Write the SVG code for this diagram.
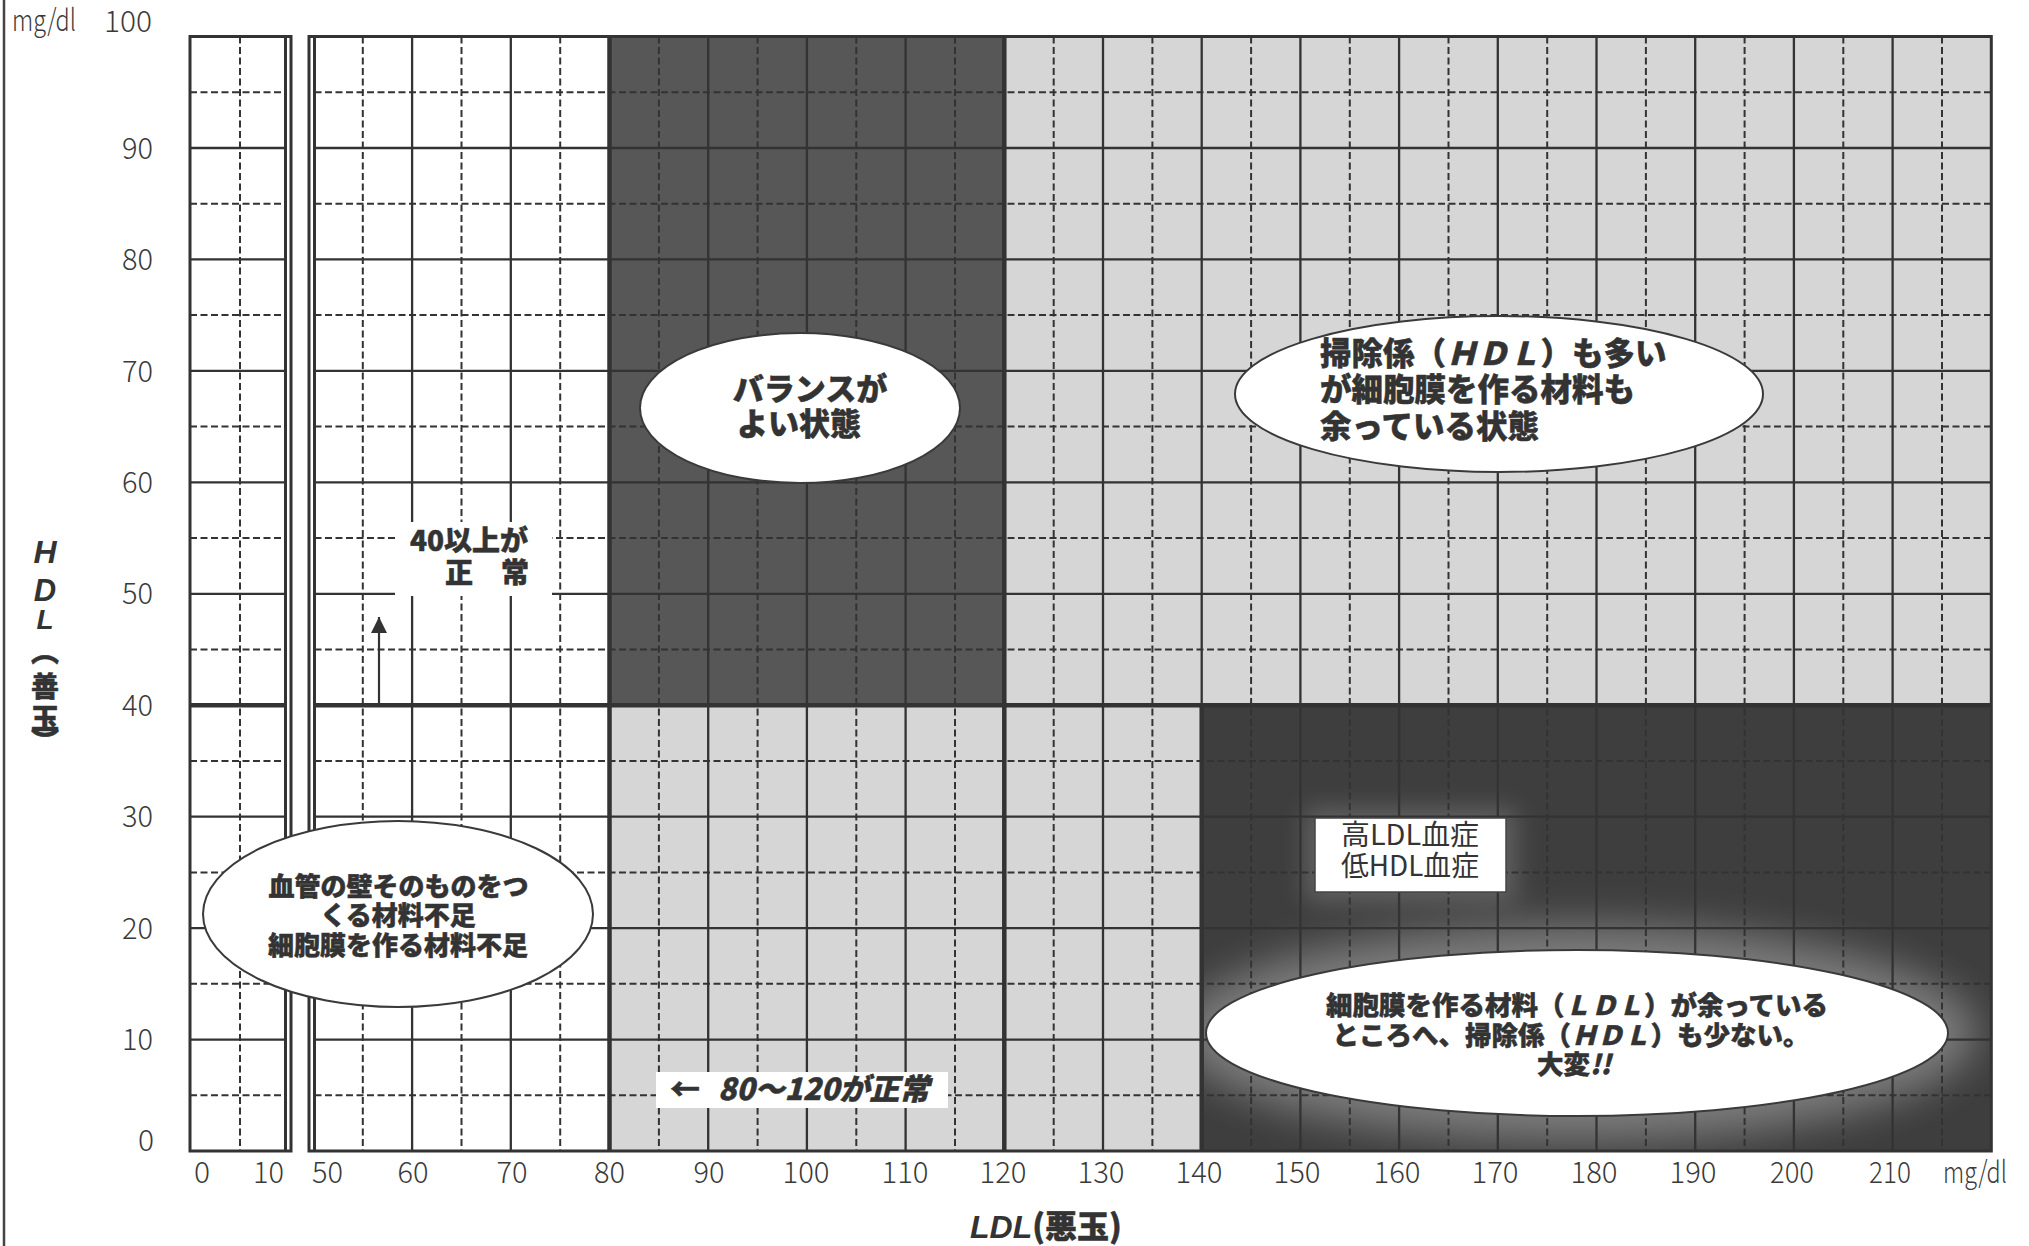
<svg xmlns="http://www.w3.org/2000/svg" width="2029" height="1246" viewBox="0 0 2029 1246">
<defs>
<style>
.bg{fill:#fff}
.g-solid{fill:none;stroke:#333;stroke-width:2.3}
.g-dash{fill:none;stroke:#333;stroke-width:2;stroke-dasharray:7 3.5}
.g-thick{fill:none;stroke:#333;stroke-width:4.5}
.border{fill:none;stroke:#333;stroke-width:3}
.bubble{fill:#fff;stroke:#3a3a3a;stroke-width:2}
.box{fill:#fff}
.num{font-family:'Noto Sans CJK JP','Noto Sans',sans-serif;font-weight:300;font-size:30px;fill:#3a3a3a}
.ny{text-anchor:end}
.nx{text-anchor:middle}
.heavy{font-family:'Noto Sans CJK JP',sans-serif;font-weight:900;fill:#333;stroke:#333;stroke-width:0.5;stroke-linejoin:round}
.reg{font-family:'Noto Sans CJK JP',sans-serif;font-weight:400;fill:#333}
.latin{font-family:'Liberation Sans',Arial,sans-serif;font-weight:700;font-style:italic;fill:#333}
.mid{text-anchor:middle}
</style>
<filter id="glow" x="-30%" y="-60%" width="160%" height="220%"><feGaussianBlur stdDeviation="20"/></filter>
<filter id="glow2" x="-40%" y="-60%" width="180%" height="220%"><feGaussianBlur stdDeviation="12"/></filter>
<clipPath id="clipDark"><rect x="1201.7" y="705.2" width="789.6" height="445.8"/></clipPath>
<marker id="arrowUp" viewBox="0 0 10 10" refX="10" refY="5" markerWidth="17" markerHeight="16" markerUnits="userSpaceOnUse" orient="auto"><path d="M0,0L10,5L0,10z" fill="#333"/></marker>
</defs>

<rect class="bg" x="0" y="0" width="2029" height="1246"/>
<line x1="4" y1="0" x2="4" y2="1246" stroke="#444" stroke-width="2.5"/>

<g id="regions">
<rect x="609.5" y="36.5" width="394.8" height="668.7" fill="#575757"/>
<rect x="1004.3" y="36.5" width="987" height="668.7" fill="#d6d6d6"/>
<rect x="609.5" y="705.2" width="592.2" height="445.8" fill="#d6d6d6"/>
<rect x="1201.7" y="705.2" width="789.6" height="445.8" fill="#3e3e3e"/>
<g clip-path="url(#clipDark)">
<ellipse cx="1577" cy="1033" rx="400" ry="108" fill="#fff" opacity="0.32" filter="url(#glow)"/>
<rect x="1305" y="808" width="211" height="94" fill="#fff" opacity="0.18" filter="url(#glow2)"/>
</g>
</g>

<g id="grid">
<path class="g-solid" d="M190 1039.6H285.5M314.5 1039.6H1991.3M190 928.1H285.5M314.5 928.1H1991.3M190 816.7H285.5M314.5 816.7H1991.3M190 593.8H285.5M314.5 593.8H1991.3M190 482.3H285.5M314.5 482.3H1991.3M190 370.9H285.5M314.5 370.9H1991.3M190 259.4H285.5M314.5 259.4H1991.3M190 148H285.5M314.5 148H1991.3"/>
<path class="g-dash" d="M190 1095.3H285.5M314.5 1095.3H1991.3M190 983.8H285.5M314.5 983.8H1991.3M190 872.4H285.5M314.5 872.4H1991.3M190 760.9H285.5M314.5 760.9H1991.3M190 649.5H285.5M314.5 649.5H1991.3M190 538H285.5M314.5 538H1991.3M190 426.6H285.5M314.5 426.6H1991.3M190 315.1H285.5M314.5 315.1H1991.3M190 203.7H285.5M314.5 203.7H1991.3M190 92.2H285.5M314.5 92.2H1991.3"/>
<path class="g-solid" d="M412.1 36.5V1151M510.8 36.5V1151M708.2 36.5V1151M806.9 36.5V1151M905.6 36.5V1151M1103 36.5V1151M1201.7 36.5V1151M1300.4 36.5V1151M1399.1 36.5V1151M1497.8 36.5V1151M1596.5 36.5V1151M1695.2 36.5V1151M1793.9 36.5V1151M1892.6 36.5V1151"/>
<path class="g-dash" d="M240 36.5V1151M362.8 36.5V1151M461.5 36.5V1151M560.2 36.5V1151M658.9 36.5V1151M757.6 36.5V1151M856.3 36.5V1151M955 36.5V1151M1053.7 36.5V1151M1152.4 36.5V1151M1251.1 36.5V1151M1349.8 36.5V1151M1448.5 36.5V1151M1547.2 36.5V1151M1645.9 36.5V1151M1744.6 36.5V1151M1843.3 36.5V1151M1942 36.5V1151"/>
<path class="g-thick" d="M190 705.2H285.5M314.5 705.2H1991.3M609.5 36.5V1151M1004.3 36.5V1151M1201.7 705.2V1151"/>
<path class="border" d="M190 36.5H291V1151H190ZM285.5 36.5V1151M309 36.5H1991.3V1151H309ZM314.5 36.5V1151"/>
</g>

<g id="axis-y">
<text class="num" x="12" y="31" font-size="26" font-weight="500" textLength="64" lengthAdjust="spacingAndGlyphs">mg/dl</text>
<text class="num ny" x="152" y="32" textLength="48" lengthAdjust="spacingAndGlyphs">100</text>
<text class="num ny" x="153" y="158.5" textLength="31" lengthAdjust="spacingAndGlyphs">90</text>
<text class="num ny" x="153" y="270" textLength="31" lengthAdjust="spacingAndGlyphs">80</text>
<text class="num ny" x="153" y="381.5" textLength="31" lengthAdjust="spacingAndGlyphs">70</text>
<text class="num ny" x="153" y="493" textLength="31" lengthAdjust="spacingAndGlyphs">60</text>
<text class="num ny" x="153" y="604" textLength="31" lengthAdjust="spacingAndGlyphs">50</text>
<text class="num ny" x="153" y="716" textLength="31" lengthAdjust="spacingAndGlyphs">40</text>
<text class="num ny" x="153" y="827" textLength="31" lengthAdjust="spacingAndGlyphs">30</text>
<text class="num ny" x="153" y="938.5" textLength="31" lengthAdjust="spacingAndGlyphs">20</text>
<text class="num ny" x="153" y="1050" textLength="31" lengthAdjust="spacingAndGlyphs">10</text>
<text class="num ny" x="154" y="1151">0</text>
</g>

<g id="axis-y-title">
<text class="latin mid" x="45" y="563" font-size="32">H</text>
<text class="latin mid" x="45" y="601" font-size="31">D</text>
<text class="latin mid" x="45" y="629" font-size="28">L</text>
<text class="heavy mid" x="45" y="662" font-size="28">︵</text>
<text class="heavy mid" x="45" y="697" font-size="28">善</text>
<text class="heavy mid" x="45" y="729" font-size="28">玉</text>
<text class="heavy mid" x="45" y="752" font-size="28">︶</text>
</g>

<g id="axis-x">
<text class="num nx" x="202" y="1183">0</text>
<text class="num nx" x="268.5" y="1183" textLength="31" lengthAdjust="spacingAndGlyphs">10</text>
<text class="num nx" x="327.5" y="1183" textLength="31" lengthAdjust="spacingAndGlyphs">50</text>
<text class="num nx" x="413" y="1183" textLength="31" lengthAdjust="spacingAndGlyphs">60</text>
<text class="num nx" x="512" y="1183" textLength="31" lengthAdjust="spacingAndGlyphs">70</text>
<text class="num nx" x="609.5" y="1183" textLength="31" lengthAdjust="spacingAndGlyphs">80</text>
<text class="num nx" x="709" y="1183" textLength="31" lengthAdjust="spacingAndGlyphs">90</text>
<text class="num nx" x="806" y="1183" textLength="47" lengthAdjust="spacingAndGlyphs">100</text>
<text class="num nx" x="905" y="1183" textLength="47" lengthAdjust="spacingAndGlyphs">110</text>
<text class="num nx" x="1003" y="1183" textLength="47" lengthAdjust="spacingAndGlyphs">120</text>
<text class="num nx" x="1101" y="1183" textLength="47" lengthAdjust="spacingAndGlyphs">130</text>
<text class="num nx" x="1199" y="1183" textLength="47" lengthAdjust="spacingAndGlyphs">140</text>
<text class="num nx" x="1297" y="1183" textLength="47" lengthAdjust="spacingAndGlyphs">150</text>
<text class="num nx" x="1397" y="1183" textLength="47" lengthAdjust="spacingAndGlyphs">160</text>
<text class="num nx" x="1495" y="1183" textLength="47" lengthAdjust="spacingAndGlyphs">170</text>
<text class="num nx" x="1594" y="1183" textLength="47" lengthAdjust="spacingAndGlyphs">180</text>
<text class="num nx" x="1693" y="1183" textLength="47" lengthAdjust="spacingAndGlyphs">190</text>
<text class="num nx" x="1792" y="1183" font-weight="700" textLength="44" lengthAdjust="spacingAndGlyphs">200</text>
<text class="num nx" x="1890" y="1183" font-weight="700" textLength="42" lengthAdjust="spacingAndGlyphs">210</text>
<text class="num" x="1943" y="1183" font-size="25" font-weight="500" textLength="64" lengthAdjust="spacingAndGlyphs">mg/dl</text>
</g>

<g id="axis-x-title">
<text class="latin" x="970" y="1238" font-size="32">LDL<tspan font-family="'Noto Sans CJK JP',sans-serif" font-style="normal" font-weight="900" stroke="#333" stroke-width="0.5">(悪玉)</tspan></text>
</g>

<g id="connectors">
<line x1="379" y1="703" x2="379" y2="617" stroke="#333" stroke-width="2.2" marker-end="url(#arrowUp)"/>
</g>

<g id="note-hdl-normal">
<rect class="box" x="395" y="522" width="157" height="74"/>
<text class="heavy" x="528" y="551" font-size="28" text-anchor="end">40以上が</text>
<text class="heavy" x="529" y="583" font-size="28" text-anchor="end">正　常</text>
</g>

<g id="note-ldl-normal">
<rect class="box" x="656" y="1072" width="292" height="36"/>
<text class="heavy" x="670" y="1100" font-size="30">←</text>
<text class="heavy" x="718" y="1100" font-size="30" font-style="italic">80～120が正常</text>
</g>

<g id="note-hyper">
<rect x="1315" y="818" width="191" height="74" fill="#fff" stroke="#444" stroke-width="1.5"/>
<text class="reg" x="1341" y="845" font-size="28" textLength="138" lengthAdjust="spacingAndGlyphs">高LDL血症</text>
<text class="reg" x="1341" y="876" font-size="28" textLength="138" lengthAdjust="spacingAndGlyphs">低HDL血症</text>
</g>

<g id="bubble-balance">
<ellipse class="bubble" cx="800" cy="408" rx="160" ry="75"/>
<text class="heavy mid" x="810" y="400" font-size="31">バランスが</text>
<text class="heavy mid" x="799" y="435" font-size="31">よい状態</text>
</g>

<g id="bubble-high-both">
<ellipse class="bubble" cx="1499" cy="394" rx="264" ry="78"/>
<text class="heavy" x="1320" y="365" font-size="31.5">掃除係（<tspan font-style="italic">ＨＤＬ</tspan>）も多い</text>
<text class="heavy" x="1320" y="401" font-size="31.5">が細胞膜を作る材料も</text>
<text class="heavy" x="1320" y="438" font-size="31.5">余っている状態</text>
</g>

<g id="bubble-shortage">
<ellipse class="bubble" cx="398" cy="914" rx="195" ry="93"/>
<text class="heavy mid" x="398.5" y="896" font-size="26">血管の壁そのものをつ</text>
<text class="heavy mid" x="398" y="925" font-size="26">くる材料不足</text>
<text class="heavy mid" x="398" y="955" font-size="26">細胞膜を作る材料不足</text>
</g>

<g id="bubble-danger">
<ellipse class="bubble" cx="1577" cy="1033" rx="371" ry="83"/>
<text class="heavy mid" x="1577" y="1015" font-size="26.5">細胞膜を作る材料（<tspan font-style="italic">ＬＤＬ</tspan>）が余っている</text>
<text class="heavy mid" x="1571" y="1045" font-size="26.5">ところへ、掃除係（<tspan font-style="italic">ＨＤＬ</tspan>）も少ない。</text>
<text class="heavy mid" x="1574" y="1074" font-size="26.5">大変<tspan font-style="italic">!!</tspan></text>
</g>
</svg>
